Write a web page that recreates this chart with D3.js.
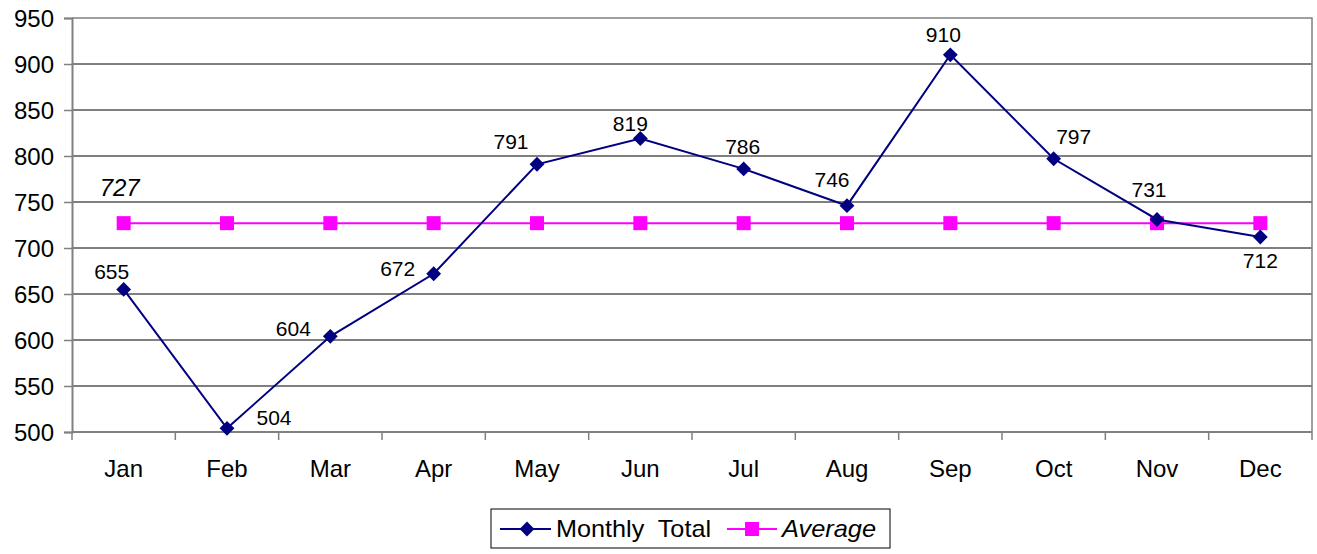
<!DOCTYPE html>
<html>
<head>
<meta charset="utf-8">
<script src="https://cdn.jsdelivr.net/npm/d3@7"></script>
<style>
  body { margin: 0; background: #fff; }
  text { font-family: 'Liberation Sans', Arial, sans-serif; fill: #000; }
</style>
</head>
<body>
<div id="chart"></div>
<script>
var months = ['Jan', 'Feb', 'Mar', 'Apr', 'May', 'Jun', 'Jul', 'Aug', 'Sep', 'Oct', 'Nov', 'Dec']
var monthlyTotal = [655, 504, 604, 672, 791, 819, 786, 746, 910, 797, 731, 712]
var average = [727, 727, 727, 727, 727, 727, 727, 727, 727, 727, 727, 727]
var yTicks = [500, 550, 600, 650, 700, 750, 800, 850, 900, 950]

// label nudges (px) relative to each point
var labelOffsets = [[-12, -10], [47, -3], [-37, 0], [-36, 2], [-26, -15], [-10, -8],
  [-1, -15], [-15, -19], [-7, -13], [20, -15], [-8, -22], [0, 31]]

var margin = { top: 18, right: 5, bottom: 122, left: 72 }
var width = 1317 - margin.left - margin.right
var height = 554 - margin.top - margin.bottom

var svg = d3
  .select('#chart')
  .append('svg')
  .attr('width', 1317)
  .attr('height', 554)
  .append('g')
  .attr('transform', 'translate(' + margin.left + ',' + margin.top + ')')

var x = d3.scaleBand().domain(months).range([0, width]).padding(0)
var y = d3.scaleLinear().domain([500, 950]).range([height, 0])
var cx = function(i) { return x(months[i]) + x.bandwidth() / 2 }

// gridlines
svg.append('g')
  .selectAll('line')
  .data(yTicks.slice(1, -1))
  .enter()
  .append('line')
  .attr('x1', 0)
  .attr('x2', width)
  .attr('y1', d => y(d))
  .attr('y2', d => y(d))
  .attr('stroke', '#000')
  .attr('stroke-width', 1)

// top/right border
svg.append('path')
  .attr('d', 'M0,' + y(950) + 'H' + width + 'V' + height)
  .attr('fill', 'none')
  .attr('stroke', '#808080')
  .attr('stroke-width', 1.5)

// y axis
var yAxis = d3.axisLeft(y).tickValues(yTicks).tickSize(8).tickPadding(10)
svg.append('g')
  .attr('class', 'y-axis')
  .call(yAxis)
svg.selectAll('.y-axis .domain').attr('stroke', '#808080').attr('stroke-width', 2)
svg.selectAll('.y-axis .tick line').attr('stroke', '#808080').attr('stroke-width', 1.5)
svg.selectAll('.y-axis text')
  .style('font-size', '24px')
  .attr('dy', '0.36em')

// x axis, ticks between categories
var xAxisG = svg.append('g').attr('transform', 'translate(0,' + height + ')')
xAxisG.append('line')
  .attr('x1', 0).attr('x2', width)
  .attr('stroke', '#808080').attr('stroke-width', 2)
xAxisG.selectAll('.tk')
  .data(d3.range(months.length + 1))
  .enter()
  .append('line')
  .attr('x1', d => d * x.bandwidth())
  .attr('x2', d => d * x.bandwidth())
  .attr('y1', 0).attr('y2', 8)
  .attr('stroke', '#808080').attr('stroke-width', 1.5)
xAxisG.selectAll('.lbl')
  .data(months)
  .enter()
  .append('text')
  .attr('x', d => x(d) + x.bandwidth() / 2)
  .attr('y', 45)
  .attr('text-anchor', 'middle')
  .style('font-size', '24px')
  .text(d => d)

var line = d3.line().x((d, i) => cx(i)).y(d => y(d))

// average
svg.append('path')
  .datum(average)
  .attr('d', line)
  .attr('fill', 'none')
  .attr('stroke', '#ff00ff')
  .attr('stroke-width', 2)
svg.selectAll('.sq')
  .data(average)
  .enter()
  .append('rect')
  .attr('x', (d, i) => cx(i) - 7)
  .attr('y', d => y(d) - 7)
  .attr('width', 14)
  .attr('height', 14)
  .attr('fill', '#ff00ff')

// monthly total
svg.append('path')
  .datum(monthlyTotal)
  .attr('d', line)
  .attr('fill', 'none')
  .attr('stroke', '#000080')
  .attr('stroke-width', 2)
var diamond = d3.symbol().type(d3.symbolSquare).size(110)
svg.selectAll('.dm')
  .data(monthlyTotal)
  .enter()
  .append('path')
  .attr('d', diamond)
  .attr('transform', (d, i) => 'translate(' + cx(i) + ',' + y(d) + ') rotate(45)')
  .attr('fill', '#000080')

svg.selectAll('.vl')
  .data(monthlyTotal)
  .enter()
  .append('text')
  .attr('x', (d, i) => cx(i) + labelOffsets[i][0])
  .attr('y', (d, i) => y(d) + labelOffsets[i][1])
  .attr('text-anchor', 'middle')
  .style('font-size', '21px')
  .text(d => d)

svg.append('text')
  .attr('x', cx(0) - 4)
  .attr('y', y(average[0]) - 27)
  .attr('text-anchor', 'middle')
  .style('font-size', '24px')
  .style('font-style', 'italic')
  .text(average[0])

// legend
var legend = d3.select('svg').append('g').attr('transform', 'translate(491,509)')
legend.append('rect')
  .attr('width', 399).attr('height', 39)
  .attr('fill', '#fff').attr('stroke', '#000').attr('stroke-width', 1)
legend.append('line')
  .attr('x1', 9).attr('x2', 60).attr('y1', 20).attr('y2', 20)
  .attr('stroke', '#000080').attr('stroke-width', 2)
legend.append('path')
  .attr('d', diamond)
  .attr('transform', 'translate(36,20) rotate(45)')
  .attr('fill', '#000080')
legend.append('text')
  .attr('x', 65).attr('y', 28)
  .style('font-size', '24px')
  .attr('xml:space', 'preserve')
  .attr('textLength', 155)
  .attr('lengthAdjust', 'spacingAndGlyphs')
  .text('Monthly  Total')
legend.append('line')
  .attr('x1', 236).attr('x2', 286).attr('y1', 20).attr('y2', 20)
  .attr('stroke', '#ff00ff').attr('stroke-width', 2)
legend.append('rect')
  .attr('x', 254).attr('y', 13).attr('width', 14).attr('height', 14)
  .attr('fill', '#ff00ff')
legend.append('text')
  .attr('x', 291).attr('y', 28)
  .style('font-size', '24px')
  .style('font-style', 'italic')
  .attr('textLength', 94)
  .attr('lengthAdjust', 'spacingAndGlyphs')
  .text('Average')
</script>
</body>
</html>
